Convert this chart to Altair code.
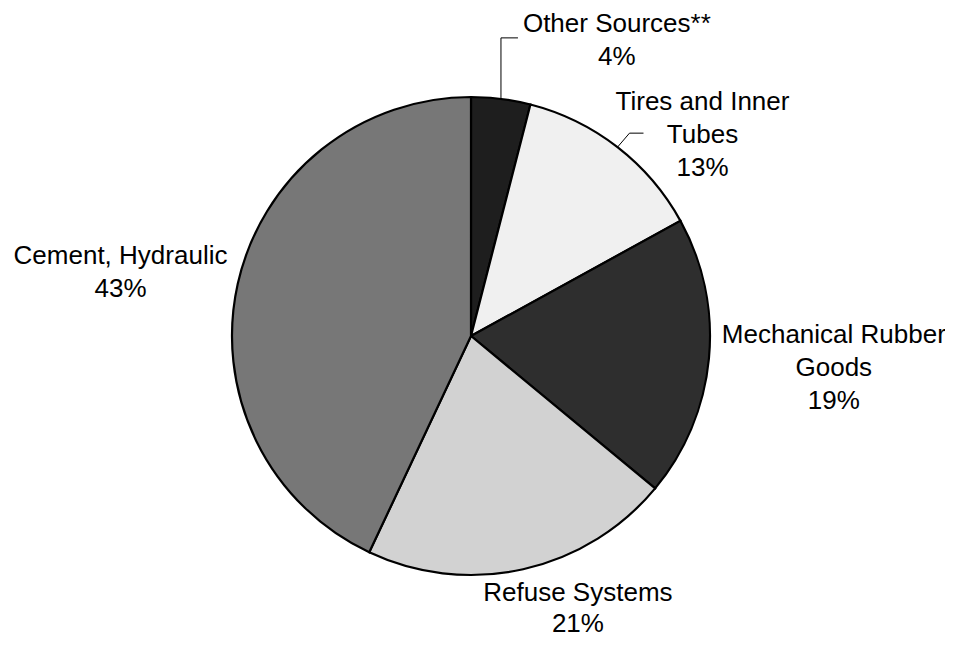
import math
import altair as alt
import pandas as pd

# ---- data ----
categories = ["Other Sources**", "Tires and Inner Tubes", "Mechanical Rubber Goods",
              "Refuse Systems", "Cement, Hydraulic"]
values = [4, 13, 19, 21, 43]
label_lines = [
    ["Other Sources**", "4%"],
    ["Tires and Inner", "Tubes", "13%"],
    ["Mechanical Rubber", "Goods", "19%"],
    ["Refuse Systems", "21%"],
    ["Cement, Hydraulic", "43%"],
]

# ---- styles ----
fills = ["#1e1e1e", "#f0f0f0", "#2e2e2e", "#d2d2d2", "#777777"]
CX, CY, R = 463, 328, 239
TEXT_R = 270
label_offsets = {  # dx, dy from radial anchor
    "Other Sources**": (112, -36),
    "Tires and Inner Tubes": (66, -13),
    "Mechanical Rubber Goods": (94, -18),
    "Refuse Systems": (48, 2),
    "Cement, Hydraulic": (-87, -13),
}
line_heights = {"Refuse Systems": 31}
FONT = "Liberation Sans"

df = pd.DataFrame({
    "cat": categories,
    "value": values,
    "idx": list(range(len(categories))),
    "label": ["\n".join(l) for l in label_lines],
})

base = alt.Chart(df).encode(
    theta=alt.Theta("value:Q", stack=True),
    order=alt.Order("idx:Q"),
    x=alt.value(CX),
    y=alt.value(CY),
)

pie = base.mark_arc(outerRadius=R, stroke="black", strokeWidth=2.2).encode(
    color=alt.Color("cat:N", scale=alt.Scale(domain=categories, range=fills), legend=None)
)

layers = [pie]
for cat in categories:
    dx, dy = label_offsets[cat]
    t = base.transform_calculate(
        lab=f"datum.cat === '{cat}' ? datum.label : ''"
    ).mark_text(
        radius=TEXT_R, dx=dx, dy=dy, align="center", baseline="alphabetic",
        font=FONT, fontSize=26, lineHeight=line_heights.get(cat, 33),
        lineBreak="\n", color="black"
    ).encode(text="lab:N")
    layers.append(t)

# leader lines computed from the slice mid-angles
total = sum(values)
cum = 0
mids = []
for v in values:
    mids.append((cum + v / 2) / total * 2 * math.pi)
    cum += v

leader_shapes = {  # elbow (dx, dy), horizontal run
    0: ((0, -61), 17),
    1: ((12, -14), 14),
}
segs = []
for i, ((ex, ey), run) in leader_shapes.items():
    sx = CX + R * math.sin(mids[i])
    sy = CY - R * math.cos(mids[i])
    segs.append({"x": sx, "y": sy, "x2": sx + ex, "y2": sy + ey})
    segs.append({"x": sx + ex, "y": sy + ey, "x2": sx + ex + run, "y2": sy + ey})
seg_df = pd.DataFrame(segs)

leaders = alt.Chart(seg_df).mark_rule(color="black", strokeWidth=1).encode(
    x=alt.X("x:Q", scale=None),
    y=alt.Y("y:Q", scale=None),
    x2="x2:Q",
    y2="y2:Q",
)
layers.append(leaders)

chart = alt.layer(*layers).properties(
    width=937, height=632, padding=0,
    autosize=alt.AutoSizeParams(type="none"),
).configure_view(strokeWidth=0)

chart.save("out.html", embed_options={"renderer": "svg", "actions": False})
